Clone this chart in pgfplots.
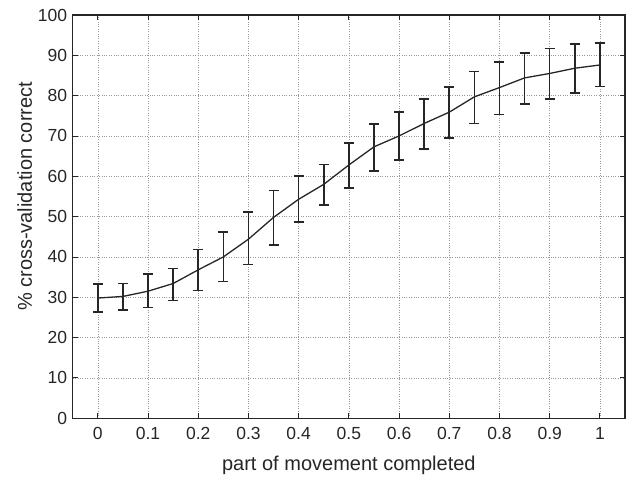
\documentclass[border=0pt]{standalone}
\usepackage{pgfplots}
\pgfplotsset{compat=1.18}
\usepackage{fontspec}
\setmainfont{Liberation Sans}
\pgfplotstableread{
x y ep em
0 29.8 3.5 3.4
0.05 30.2 3.2 3.3
0.1 31.5 4.2 4.0
0.15 33.4 3.7 4.2
0.2 36.8 5.0 5.1
0.25 40.0 6.2 6.1
0.3 44.4 6.8 6.3
0.35 49.8 6.7 6.9
0.4 54.3 5.8 5.6
0.45 58.0 4.9 5.1
0.5 62.8 5.5 5.7
0.55 67.3 5.6 6.0
0.6 70.0 6.0 6.0
0.65 73.1 6.0 6.3
0.7 75.9 6.3 6.4
0.75 79.7 6.3 6.6
0.8 82.0 6.4 6.7
0.85 84.4 6.2 6.4
0.9 85.5 6.2 6.4
0.95 86.8 6.0 6.1
1 87.6 5.4 5.3
}\datatable
\begin{document}
\begin{tikzpicture}
\begin{axis}[
  scale only axis, width=552pt, height=403pt,
  xmin=-0.05, xmax=1.05, ymin=0, ymax=100,
  xtick={0,0.1,0.2,0.3,0.4,0.5,0.6,0.7,0.8,0.9,1},
  xticklabels={0,0.1,0.2,0.3,0.4,0.5,0.6,0.7,0.8,0.9,1},
  ytick={0,10,20,30,40,50,60,70,80,90,100},
  /pgf/number format/assume math mode=true,
  grid=major, grid style={dotted, black!40, line width=0.5pt},
  tick align=inside, tick pos=both,
  major tick length=5pt,
  tick style={black!85, line width=0.8pt},
  axis line style={black!85, line width=1.3pt},
  ticklabel style={font=\fontsize{17.5}{20}\selectfont, text=black!85},
  label style={font=\fontsize{20}{23}\selectfont, text=black!85},
  xlabel={part of movement completed},
  ylabel={\% cross-validation correct},
  xticklabel style={yshift=-6pt},
  yticklabel style={xshift=-2pt},
  xlabel style={yshift=-9pt},
  ylabel style={at={(ticklabel cs:0.55)}, yshift=-1pt},
]
\addplot[black!85, line width=1.3pt, mark=none,
  error bars/.cd, y dir=both, y explicit,
  error bar style={line width=1.6pt, black!85},
  error mark options={rotate=90, mark size=5pt, line width=1.6pt, black!85}]
  table[x=x, y=y, y error plus=ep, y error minus=em] {\datatable};
\coordinate (sw) at (rel axis cs:0,0);
\coordinate (ne) at (rel axis cs:1,1);
\end{axis}
\path ([xshift=-72.7pt,yshift=-60pt]sw) rectangle ([xshift=10pt,yshift=15pt]ne);
\end{tikzpicture}
\end{document}
